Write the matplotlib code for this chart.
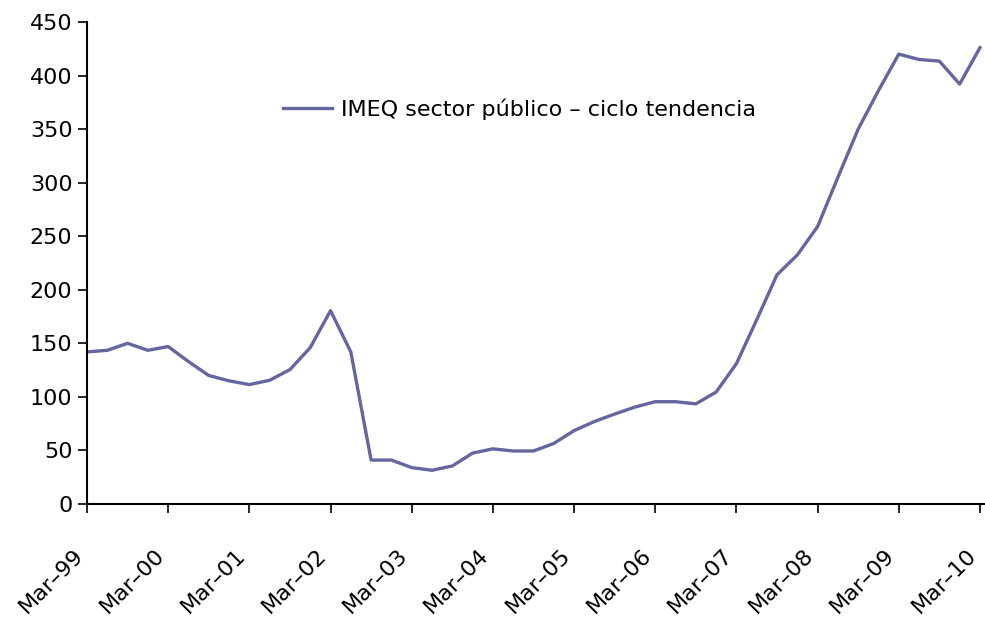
import matplotlib.pyplot as plt
import matplotlib.transforms as mtransforms

# quarterly values, Mar-99 .. Mar-10
values = [142, 143.5, 150, 143.5, 147, 133, 120, 115, 111.5, 115.5, 125.5, 146,
          180.5, 142, 41, 41, 34, 31.5, 35.5, 47.5, 51.5, 49.5, 49.5, 56.5,
          68.5, 77, 84, 90.5, 95.5, 95.5, 93.5, 104.5, 131, 172, 214, 232.5,
          259, 305, 350, 386, 420, 415, 413.5, 392, 426]
tick_labels = ['Mar\u201399', 'Mar\u201300', 'Mar\u201301', 'Mar\u201302', 'Mar\u201303',
               'Mar\u201304', 'Mar\u201305', 'Mar\u201306', 'Mar\u201307', 'Mar\u201308',
               'Mar\u201309', 'Mar\u201310']
series_name = 'IMEQ sector p\u00fablico \u2013 ciclo tendencia'

plt.rcParams['font.family'] = 'DejaVu Sans'

fig = plt.figure(figsize=(9.85, 6.23), dpi=100)
ax = fig.add_axes([0.0883, 0.191, 0.9107, 0.7737])

x = list(range(len(values)))
ax.plot(x, values, color='#65669e', linewidth=2.4, label=series_name)

ax.set_xlim(0, len(values) - 1 + 0.2)
ax.set_ylim(0, 450)
ax.set_yticks(range(0, 451, 50))
ax.set_xticks(range(0, len(values), 4))
ax.set_xticklabels(tick_labels, rotation=45, ha='right')

# nudge the rotated labels a little to the right, as in the original
shift = mtransforms.ScaledTranslation(4 / 100, 0, fig.dpi_scale_trans)
for lbl in ax.get_xticklabels():
    lbl.set_transform(lbl.get_transform() + shift)

for s in ['top', 'right']:
    ax.spines[s].set_visible(False)
for s in ['left', 'bottom']:
    ax.spines[s].set_linewidth(1.5)

ax.tick_params(axis='y', direction='out', length=6.5, width=1.2, labelsize=16, pad=4)
ax.tick_params(axis='x', direction='out', length=6.5, width=1.2, labelsize=16, pad=23)

ax.legend(loc='center left', bbox_to_anchor=(0.196, 0.82), frameon=False,
          fontsize=16, handlelength=2.2, handletextpad=0.4)

plt.savefig('out.png', dpi=100)
